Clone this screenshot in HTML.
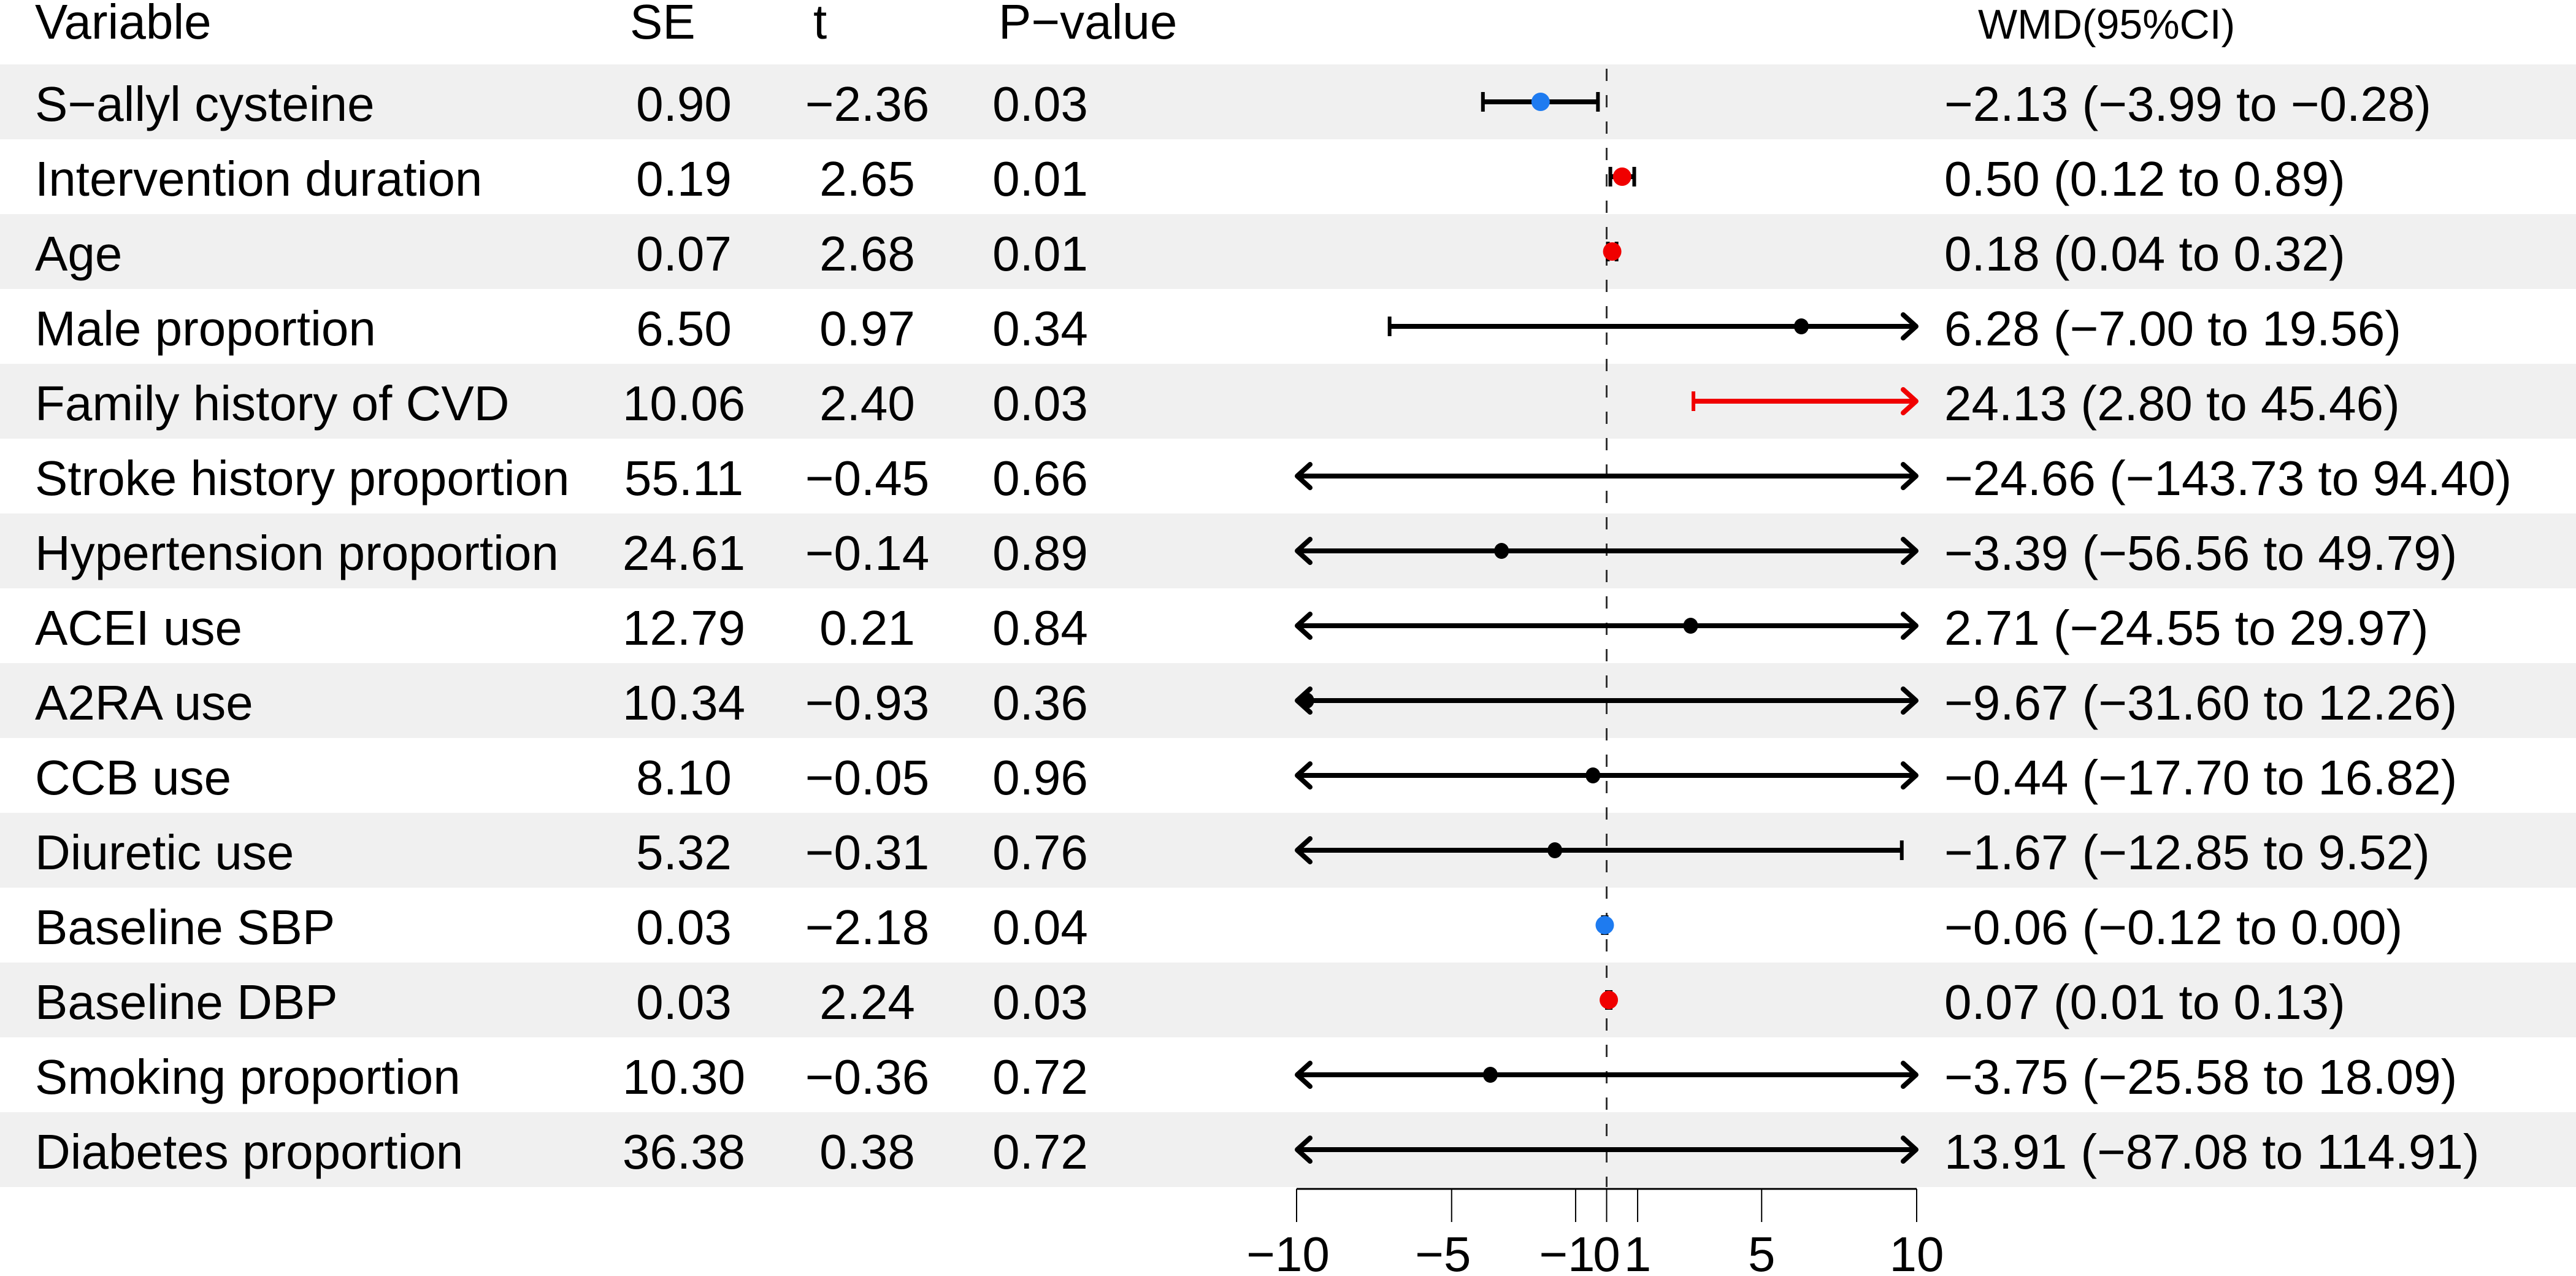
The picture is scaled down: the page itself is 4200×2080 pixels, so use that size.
<!DOCTYPE html>
<html><head><meta charset="utf-8"><title>Meta-regression forest plot</title>
<style>
html,body{margin:0;padding:0;background:#fff;}
svg{display:block;}
text{font-family:"Liberation Sans",sans-serif;fill:#000;}
</style></head>
<body>
<svg id="chart" xmlns="http://www.w3.org/2000/svg" width="4200" height="2080" viewBox="0 0 4200 2080"></svg>
<script>
const variables = ["S\u2212allyl cysteine","Intervention duration","Age","Male proportion","Family history of CVD","Stroke history proportion","Hypertension proportion","ACEI use","A2RA use","CCB use","Diuretic use","Baseline  SBP","Baseline  DBP","Smoking proportion","Diabetes proportion"];
const seVals = ["0.90","0.19","0.07","6.50","10.06","55.11","24.61","12.79","10.34","8.10","5.32","0.03","0.03","10.30","36.38"];
const tVals = ["\u22122.36","2.65","2.68","0.97","2.40","\u22120.45","\u22120.14","0.21","\u22120.93","\u22120.05","\u22120.31","\u22122.18","2.24","\u22120.36","0.38"];
const pVals = ["0.03","0.01","0.01","0.34","0.03","0.66","0.89","0.84","0.36","0.96","0.76","0.04","0.03","0.72","0.72"];
const est = [-2.13,0.50,0.18,6.28,24.13,-24.66,-3.39,2.71,-9.67,-0.44,-1.67,-0.06,0.07,-3.75,13.91];
const lower = [-3.99,0.12,0.04,-7.00,2.80,-143.73,-56.56,-24.55,-31.60,-17.70,-12.85,-0.12,0.01,-25.58,-87.08];
const upper = [-0.28,0.89,0.32,19.56,45.46,94.40,49.79,29.97,12.26,16.82,9.52,0.00,0.13,18.09,114.91];
const ciLabels = ["\u22122.13 (\u22123.99 to \u22120.28)","0.50 (0.12 to 0.89)","0.18 (0.04 to 0.32)","6.28 (\u22127.00 to 19.56)","24.13 (2.80 to 45.46)","\u221224.66 (\u2212143.73 to 94.40)","\u22123.39 (\u221256.56 to 49.79)","2.71 (\u221224.55 to 29.97)","\u22129.67 (\u221231.60 to 12.26)","\u22120.44 (\u221217.70 to 16.82)","\u22121.67 (\u221212.85 to 9.52)","\u22120.06 (\u22120.12 to 0.00)","0.07 (0.01 to 0.13)","\u22123.75 (\u221225.58 to 18.09)","13.91 (\u221287.08 to 114.91)"];
const pointColor = ["#1e7bf0","#f00000","#f00000","#000","#f00000","#000","#000","#000","#000","#000","#000","#1e7bf0","#f00000","#000","#000"];
const lineColor = ["#000","#000","#000","#000","#f00000","#000","#000","#000","#000","#000","#000","#000","#000","#000","#000"];
const tickVals = [-10,-5,-1,0,1,5,10];
const tickLabels = ["\u221210","\u22125","\u22121","0","1","5","10"];
const xMin = -10, xMax = 10;

const NS = "http://www.w3.org/2000/svg";
const svg = document.getElementById("chart");
const X0 = 2114, X1 = 3125;
function xs(v){ return X0 + (v - xMin) / (xMax - xMin) * (X1 - X0); }
const ROW0 = 166, ROWH = 122;
function ys(i){ return ROW0 + i * ROWH; }
function mk(tag, attrs, parent){
  const e = document.createElementNS(NS, tag);
  for (const k in attrs) e.setAttribute(k, attrs[k]);
  (parent || svg).appendChild(e);
  return e;
}
function txt(str, x, y, anchor, size, parent){
  const t = mk("text", {x:x, y:y, "text-anchor":anchor, "font-size":size}, parent);
  t.textContent = str;
  return t;
}

for (let i = 0; i < variables.length; i += 2) {
  const r = mk("rect", {x:0, y:ys(i)-61, width:4200, height:122, fill:"#f0f0f0"});
  
  
}

const headers = [["Variable",57,"start",80],["SE",1027,"start",80],["t",1326,"start",80],["P\u2212value",1628,"start",80],["WMD(95%CI)",3225,"start",68]];
headers.forEach(h => {
  const t = txt(h[0], h[1], 63, h[2], h[3]);
  
  
});

const ref = mk("line", {x1:xs(0), x2:xs(0), y1:112, y2:1935, stroke:"#333", "stroke-width":3, "stroke-dasharray":"20 23"});



for (let i = 0; i < variables.length; i++) {
  const y = ys(i);
  const base = y + 31;
  const g = mk("g", {});
  
  
  const a = txt(variables[i], 57, base, "start", 80, g);
  
  
  const b = txt(seVals[i], 1115, base, "middle", 80, g);
  
  
  const c = txt(tVals[i], 1414, base, "middle", 80, g);
  
  
  const d = txt(pVals[i], 1696, base, "middle", 80, g);
  
  
  const e = txt(ciLabels[i], 3170, base, "start", 80, g);
  
  

  const lo = Math.max(lower[i], xMin), hi = Math.min(upper[i], xMax);
  const col = lineColor[i];
  if (hi > lo) {
    const l = mk("line", {x1:xs(lo), x2:xs(hi), y1:y, y2:y, stroke:col, "stroke-width":8}, g);
    
    
  }
  if (lower[i] < xMin) {
    const p = mk("polyline", {points:(xs(xMin)+22)+","+(y-19)+" "+(xs(xMin)+1)+","+y+" "+(xs(xMin)+22)+","+(y+19), fill:"none", stroke:col, "stroke-width":8, "stroke-linecap":"round", "stroke-linejoin":"round"}, g);
    
    
  } else if (hi > lo) {
    const p = mk("line", {x1:xs(lo), x2:xs(lo), y1:y-16, y2:y+16, stroke:col, "stroke-width":6}, g);
    
    
  }
  if (upper[i] > xMax) {
    const p = mk("polyline", {points:(xs(xMax)-22)+","+(y-19)+" "+(xs(xMax)-1)+","+y+" "+(xs(xMax)-22)+","+(y+19), fill:"none", stroke:col, "stroke-width":8, "stroke-linecap":"round", "stroke-linejoin":"round"}, g);
    
    
  } else if (hi > lo) {
    const p = mk("line", {x1:xs(hi), x2:xs(hi), y1:y-16, y2:y+16, stroke:col, "stroke-width":6}, g);
    
    
  }
  if (est[i] >= xMin && est[i] <= xMax) {
    const big = pointColor[i] !== "#000";
    const pt = mk("ellipse", {cx:xs(est[i]), cy:y, rx:big?15:12, ry:big?15:13, fill:pointColor[i]}, g);
    
    
  }
}

const axis = mk("g", {});


const al = mk("line", {x1:xs(xMin), x2:xs(xMax), y1:1938, y2:1938, stroke:"#000", "stroke-width":3}, axis);


tickVals.forEach((v, k) => {
  const tk = mk("line", {x1:xs(v), x2:xs(v), y1:1938, y2:1992, stroke:"#000", "stroke-width":2}, axis);
  
  
  const lb = txt(tickLabels[k], xs(v) + (tickLabels[k].charAt(0)==="\u2212" ? -14 : 0), 2072, "middle", 80, axis);
  
  
});
</script>
</body></html>
